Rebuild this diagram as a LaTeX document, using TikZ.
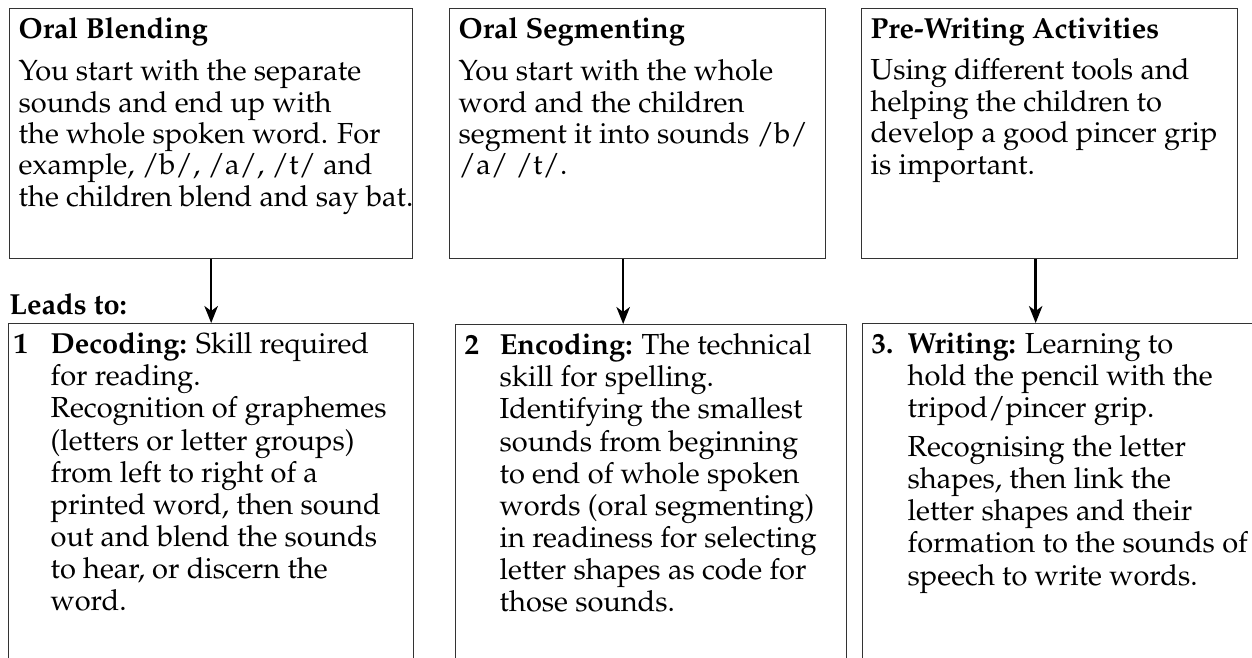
\documentclass[tikz,border=0pt]{standalone}
\usepackage[T1]{fontenc}
\usepackage{mathpazo}
\usetikzlibrary{arrows.meta}

\begin{document}
\begin{tikzpicture}[
        x=0.02cm, y=-0.02cm,
        every node/.style={font=\fontsize{16.5}{17.9}\selectfont},
        card/.style={
            draw=black!80,
            line width=0.8pt,
            anchor=north west,
            inner sep=0.18cm
        },
        skill/.style={card, font=\fontsize{16.5}{18.3}\selectfont},
        arrow/.style={-{Stealth[length=3.4mm, width=2.7mm, inset=1mm]}, line width=1.4pt},
        lead/.style={anchor=base west, inner sep=0pt, font=\fontsize{16.5}{17.9}\selectfont\bfseries}
    ]

        \useasboundingbox (0,0) rectangle (1252,657);
        \clip (0,0) rectangle (1252,657);

        % top row
        \node[card] (blend) at (9,8) {\parbox[t][4.64cm][t]{7.70cm}{%
            \textbf{Oral Blending}\\[6pt]
            You start with the separate\\
            sounds and end up with\\
            the whole spoken word. For\\
            example, /b/, /a/, /t/ and\\
            \mbox{the children blend and say bat.}}};

        \node[card] (segment) at (449,8) {\parbox[t][4.64cm][t]{7.16cm}{%
            \textbf{Oral Segmenting}\\[6pt]
            You start with the whole\\
            word and the children\\
            segment it into sounds /b/\\
            /a/ /t/.}};

        \node[card] (prewrite) at (861,8) {\parbox[t][4.64cm][t]{7.16cm}{%
            \textbf{Pre-Writing Activities}\\[6pt]
            Using different tools and\\
            helping the children to\\
            develop a good pincer grip\\
            is important.}};

        % bottom row
        \node[lead] (leads) at (9,314) {Leads to:};

        \node[skill, inner xsep=0.1cm] (decode) at (8,323) {\parbox[t][7cm][t]{7.90cm}{%
            \makebox[0.74cm][l]{\textbf{1}}\parbox[t]{7.16cm}{%
            \textbf{Decoding:} Skill required\\
            for reading.\\
            Recognition of graphemes\\
            (letters or letter groups)\\
            from left to right of a\\
            printed word, then sound\\
            out and blend the sounds\\
            to hear, or discern the\\
            word.}}};

        \node[skill] (encode) at (455,324) {\parbox[t][7cm][t]{7.46cm}{%
            \makebox[0.70cm][l]{\textbf{2}}\parbox[t]{6.76cm}{%
            \textbf{Encoding:} The technical\\
            skill for spelling.\\
            Identifying the smallest\\
            sounds from beginning\\
            to end of whole spoken\\
            words (oral segmenting)\\
            in readiness for selecting\\
            letter shapes as code for\\
            those sounds.}}};

        \node[skill] (write) at (862,323) {\parbox[t][7cm][t]{7.90cm}{%
            \makebox[0.72cm][l]{\textbf{3.}}\parbox[t]{7.18cm}{%
            \textbf{Writing:} Learning to\\
            hold the pencil with the\\
            tripod/pincer grip.\\[4pt]
            Recognising the letter\\
            shapes, then link the\\
            letter shapes and their\\
            formation to the sounds of\\
            speech to write words.}}};

        % leads to
        \draw[arrow] (blend.south) -- (blend.south |- decode.north);
        \draw[arrow] ([xshift=-0.29cm]segment.south) -- ([xshift=-0.29cm]segment.south |- encode.north);
        \draw[arrow] ([xshift=-0.28cm]prewrite.south) -- ([xshift=-0.28cm]prewrite.south |- write.north);

    \end{tikzpicture}
\end{document}
